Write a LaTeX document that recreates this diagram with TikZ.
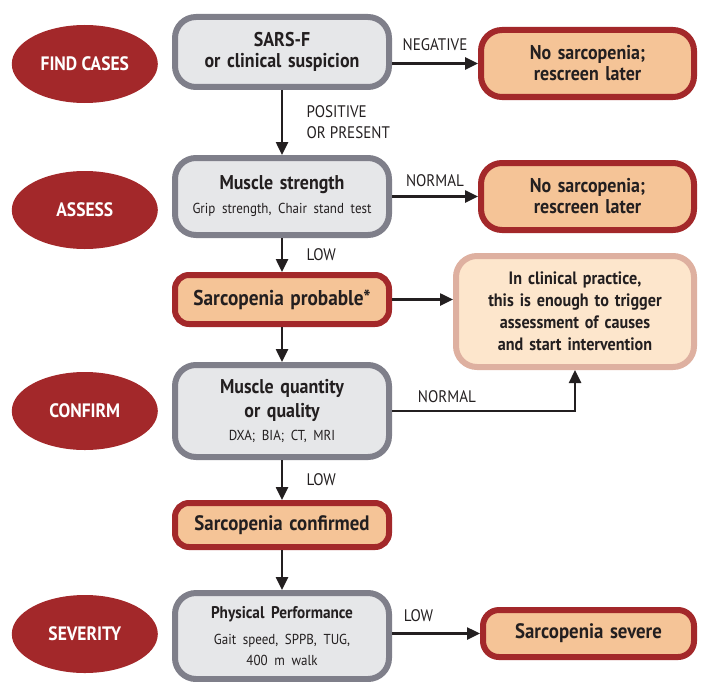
\documentclass[tikz,border=0pt]{standalone}
\usepackage{fontspec}
\setmainfont{PT Sans}[FakeStretch=0.9]
\usepackage{tikz}
\usetikzlibrary{shapes.geometric,arrows.meta,positioning}
\definecolor{phasered}{HTML}{A3282A}
\definecolor{boxgray}{HTML}{E6E7E9}
\definecolor{framegray}{HTML}{7F7F8A}
\definecolor{peach}{HTML}{F5C497}
\definecolor{notefill}{HTML}{FDE6CC}
\definecolor{noteframe}{HTML}{DEB0A0}
\definecolor{ink}{HTML}{231F20}
\newcommand{\subtext}[1]{{\fontsize{14.5}{21}\selectfont\mdseries #1}}

\begin{document}
\begin{tikzpicture}[x=1bp, y=-1bp, node distance=86bp,
    phase/.style={ellipse, fill=phasered, text=white, inner sep=0pt,
      font=\fontsize{19.5}{22}\selectfont\bfseries, minimum width=146bp, minimum height=78bp},
    boxbase/.style={rectangle, rounded corners=21bp, line width=6bp, inner sep=0pt,
      text width=214bp, align=center, text=ink, font=\fontsize{20}{21}\selectfont\bfseries},
    test/.style={boxbase, draw=framegray, fill=boxgray},
    result/.style={boxbase, draw=phasered, fill=peach},
    note/.style={boxbase, draw=noteframe, fill=notefill, text width=238bp,
      font=\fontsize{18}{22}\selectfont\bfseries},
    tag/.style={font=\fontsize{16.8}{21}\selectfont, text=ink},
    arrow/.style={-{Triangle[length=13bp,width=12bp]}, line width=2.5bp, draw=ink}]

    \useasboundingbox (0,0) rectangle (702,682);

    % main column
    \node [test, minimum height=70bp] (sarsf) at (282,52) {SARS-F\\or clinical suspicion};
    \node [test, minimum height=77bp, below=65bp of sarsf] (strength)
      {Muscle strength\\[3bp]\subtext{Grip strength, Chair stand test}};
    \node [result, rounded corners=14bp, minimum height=49bp, below=34bp of strength] (probable)
      {\fontsize{21.5}{22}\selectfont Sarcopenia probable*};
    \node [test, minimum height=92bp, below=35bp of probable] (quantity)
      {Muscle quantity\\[3bp]or quality\\[2bp]\subtext{DXA; BIA; CT, MRI}};
    \node [result, rounded corners=14bp, minimum height=44bp, below=40bp of quantity] (confirmed)
      {\fontsize{21}{22}\selectfont Sarcopenia confirmed};
    \node [test, minimum height=86bp, below=40bp of confirmed] (performance)
      {{\fontsize{17}{19}\selectfont Physical Performance}\\[5bp]\subtext{Gait speed, SPPB, TUG,\\400 m walk}};

    % outcomes on the right
    \node [result, text width=213bp, minimum height=67bp, right=of sarsf, yshift=-11.5bp] (nosarc1)
      {No sarcopenia;\\rescreen later};
    \node [result, text width=213bp, minimum height=67bp, right=of strength] (nosarc2)
      {No sarcopenia;\\rescreen later};
    \node [note, minimum height=111bp, right=61bp of probable, yshift=-12bp] (practice)
      {In clinical practice,\\this is enough to trigger\\assessment of causes\\and start intervention};
    \node [result, rounded corners=16bp, text width=211bp, minimum height=47bp,
      right=88bp of performance, yshift=2.5bp] (severe)
      {\fontsize{21}{22}\selectfont Sarcopenia severe};

    % phases on the left
    \node [phase, left=14bp of sarsf, yshift=-12bp] (findcases) {FIND CASES};
    \node [phase, left=14bp of strength, yshift=-13.5bp] (assess) {ASSESS};
    \node [phase, left=14bp of quantity] (confirm) {CONFIRM};
    \node [phase, left=14bp of performance, yshift=2bp] (severity) {SEVERITY};

    \draw [arrow] (sarsf.east |- nosarc1) -- node [tag, above=8bp] {NEGATIVE} (nosarc1);
    \draw [arrow] (sarsf) -- node [tag, right=20bp, align=left] {POSITIVE\\OR PRESENT} (strength);
    \draw [arrow] (strength) -- node [tag, above=5bp] {NORMAL} (nosarc2);
    \draw [arrow] (strength) -- node [tag, right=20bp] {LOW} (probable);
    \draw [arrow] (probable) -- (probable -| practice.west);
    \draw [arrow] (probable) -- (quantity);
    \draw [arrow] (quantity) -| node [tag, above=4bp, pos=0.15] {NORMAL} (practice);
    \draw [arrow] (quantity) -- node [tag, right=20bp] {LOW} (confirmed);
    \draw [arrow] (confirmed) -- (performance);
    \draw [arrow] (performance.east |- severe) -- node [tag, above=7bp, pos=0.3] {LOW} (severe);
\end{tikzpicture}
\end{document}
